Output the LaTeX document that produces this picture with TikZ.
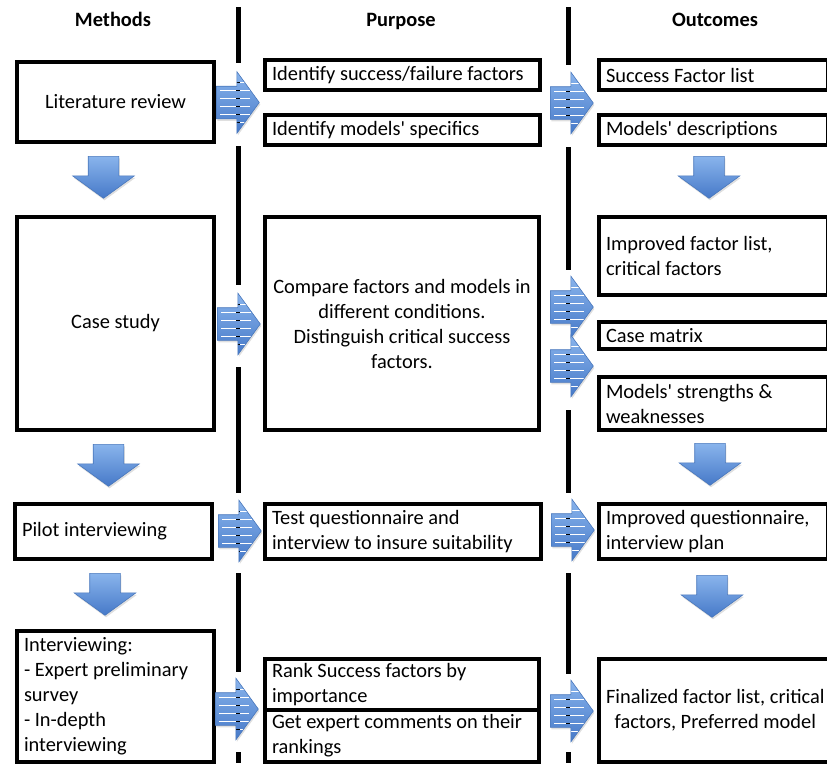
\documentclass[tikz,border=0pt]{standalone}
\usepackage{fontspec}
\setmainfont{Carlito}
\usetikzlibrary{shapes.arrows,shadows}

\definecolor{arrowlight}{HTML}{89B4EC}
\definecolor{arrowdark}{HTML}{4679C8}
\definecolor{arrowedge}{HTML}{4A78BC}
\newcommand{\dfont}{\fontsize{20.4}{25}\selectfont}

\tikzset{
  box/.style={draw, line width=4pt, fill=white, anchor=north west, inner xsep=7pt, inner ysep=0pt},
  head/.style={font=\dfont\bfseries, anchor=base},
  vline/.style={line width=5pt},
  arrowbase/.style={single arrow, single arrow tip angle=108, draw=arrowedge, line width=0.6pt,
    top color=arrowlight, bottom color=arrowdark, inner xsep=0pt, minimum width=0pt,
    drop shadow={opacity=0.25, shadow xshift=1pt, shadow yshift=-2pt}},
  rarrow/.style={arrowbase, inner ysep=16pt, single arrow head extend=14.5pt, minimum height=43pt,
    path picture={
      \foreach \dy in {-20,-12,-4,4,12,20}{
        \draw[white, line width=0.9pt] ([xshift=4pt, yshift=\dy pt]path picture bounding box.west) -- ++(30pt,0pt);
        \draw[black, line width=0.8pt] ([xshift=#1pt, yshift=\dy pt]path picture bounding box.west) -- ++(3.5pt,0pt);
      }}},
  darrow/.style={arrowbase, rotate=-90, inner ysep=15pt, single arrow head extend=15.5pt, minimum height=42pt}
}

\begin{document}
\begin{tikzpicture}[x=1pt, y=-1pt, font=\dfont]
	\useasboundingbox (0,0) rectangle (827,763);

	% column separators
	\draw[vline] (238,7) -- (238,63) (238,146) -- (238,285) (238,367) -- (238,493) (238,573) -- (238,672) (238,752) -- (238,763);
	\draw[vline] (568,7) -- (568,65) (568,147) -- (568,270) (568,410) -- (568,493) (568,573) -- (568,674) (568,752) -- (568,763);

	% headings
	\node[head] (hmeth) at (113,26) {Methods};
	\node[head] (hpurp) at (401,26) {Purpose};
	\node[head] (hout)  at (715,26) {Outcomes};

	% methods
	\node[box, minimum width=197pt, minimum height=80pt, align=center] (lit) at (15,60) {Literature review};
	\node[box, minimum width=197pt, minimum height=213pt, align=center] (case) at (15,215) {Case study};
	\node[box, minimum width=197pt, minimum height=55pt, text width=183pt, align=flush left] (pilot) at (13,502) {Pilot interviewing};
	\node[box, minimum width=197pt, minimum height=131pt, text width=183pt, align=flush left] (intv) at (15,629)
		{Interviewing:\\- Expert preliminary\\survey\\- In-depth\\interviewing};

	% purpose
	\node[box, minimum width=275pt, minimum height=30pt, text width=261pt, align=flush left] (ident) at (263,58) {Identify success/failure factors};
	\node[box, minimum width=275pt, minimum height=30pt, text width=261pt, align=flush left] (spec) at (263,113) {Identify models\textquotesingle{} specifics};
	\node[box, minimum width=274pt, minimum height=213pt, align=center] (comp) at (263,215)
		{Compare factors and models in\\different conditions.\\Distinguish critical success\\factors.};
	\node[box, minimum width=276pt, minimum height=55pt, text width=262pt, align=flush left] (test) at (263,502)
		{Test questionnaire and\\interview to insure suitability};
	\node[box, minimum width=274pt, minimum height=51pt, text width=260pt, align=flush left] (rank) at (263,657)
		{Rank Success factors by\\importance};
	\node[box, minimum width=274pt, minimum height=52pt, text width=260pt, align=flush left] (comm) at (263,708)
		{Get expert comments on their\\rankings};

	% outcomes
	\node[box, minimum width=229pt, minimum height=30pt, text width=215pt, align=flush left] (sfl) at (597,58) {Success Factor list};
	\node[box, minimum width=229pt, minimum height=30pt, text width=215pt, align=flush left] (desc) at (597,113) {Models\textquotesingle{} descriptions};
	\node[box, minimum width=229pt, minimum height=78pt, text width=215pt, align=flush left] (impf) at (597,215)
		{Improved factor list,\\critical factors};
	\node[box, minimum width=229pt, minimum height=27pt, text width=215pt, align=flush left] (cmat) at (597,320) {Case matrix};
	\node[box, minimum width=229pt, minimum height=53pt, text width=215pt, align=flush left] (strg) at (597,375)
		{Models\textquotesingle{} strengths \&\\weaknesses};
	\node[box, minimum width=229pt, minimum height=55pt, text width=215pt, align=flush left] (impq) at (597,502)
		{Improved questionnaire,\\interview plan};
	\node[box, minimum width=229pt, minimum height=103pt, align=center] (fin) at (597,657)
		{Finalized factor list, critical\\factors, Preferred model};

	% striped arrows
	\node[rarrow=20, anchor=tail] (ra1) at (216,102.5) {};
	\node[rarrow=16, anchor=tail] (ra2) at (550,103) {};
	\node[rarrow=19, anchor=tail] (ra3) at (217,324) {};
	\node[rarrow=16, anchor=tail] (ra4) at (550,307) {};
	\node[rarrow=16, anchor=tail] (ra5) at (550,366) {};
	\node[rarrow=18, anchor=tail] (ra6) at (218,531) {};
	\node[rarrow=15, anchor=tail] (ra7) at (551,530) {};
	\node[rarrow=21, anchor=tail] (ra8) at (215,709) {};
	\node[rarrow=16, anchor=tail] (ra9) at (550,711) {};

	% down arrows
	\node[darrow, anchor=tail] (da1) at (103.5,156) {};
	\node[darrow, anchor=tail] (da2) at (709,156) {};
	\node[darrow, anchor=tail] (da3) at (108.5,444) {};
	\node[darrow, anchor=tail] (da4) at (105,573) {};
	\node[darrow, anchor=tail] (da5) at (710,443) {};
	\node[darrow, anchor=tail] (da6) at (712,575) {};
\end{tikzpicture}
\end{document}
